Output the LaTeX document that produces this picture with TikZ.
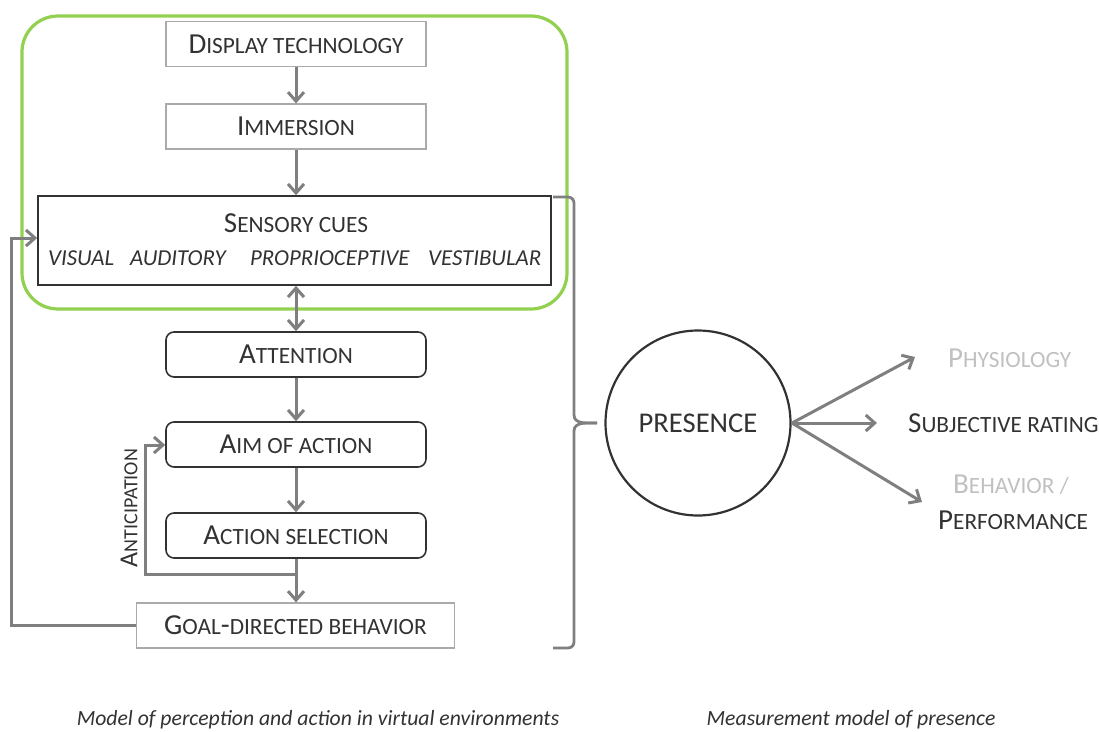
\documentclass[tikz,border=0pt]{standalone}
\usepackage{fontspec}
\setmainfont{Carlito}
\usetikzlibrary{arrows.meta}
\definecolor{arr}{RGB}{127,127,127}
\definecolor{grn}{RGB}{146,208,80}
\definecolor{lgbox}{RGB}{170,170,170}
\definecolor{txt}{RGB}{50,50,50}
\definecolor{ltxt}{RGB}{192,192,192}
\newcommand\smc{\fontsize{23.3}{23.3}\selectfont}
\newcommand\bgc{\fontsize{29}{29}\selectfont}
\begin{document}
\begin{tikzpicture}[x=1pt,y=-1pt,
  barb/.tip={Straight Barb[length=9pt,width=16pt]},
  arrtip/.style={-barb},
  conn/.style={draw=arr,line width=3pt,arrtip},
  lbox/.style={draw=lgbox,line width=1.2pt,minimum width=260pt,minimum height=45pt,text=txt,font=\bgc,inner sep=0pt},
  rbox/.style={draw=txt,line width=1.6pt,rounded corners=8pt,minimum width=260pt,minimum height=45pt,text=txt,font=\bgc,inner sep=0pt},
  itc/.style={text=txt,font=\fontsize{22.8}{22.8}\selectfont\itshape,anchor=west,inner sep=0pt},
  rtxt/.style={font=\bgc,anchor=west,inner sep=0pt},
  captxt/.style={font=\fontsize{21.7}{21.7}\selectfont\itshape,text=txt}]
\useasboundingbox (0,0) rectangle (1099,731);
% green frame
\draw[grn,line width=3.2pt,rounded corners=36pt] (22,16) rectangle (567,309);
% left column
\node[lbox] (dt) at (296,44) {D{\smc ISPLAY TECHNOLOGY}};
\node[lbox] (im) at (296,126.5) {I{\smc MMERSION}};
\node[draw=txt,line width=1.6pt,minimum width=513pt,minimum height=89pt,inner sep=0pt] (sc) at (294.5,240.5) {};
\node[text=txt,font=\bgc,inner sep=0pt] (sct) at (296,223) {S{\smc ENSORY CUES}};
\node[itc] (v1) at (48,258) {VISUAL};
\node[itc] (v2) at (130,258) {AUDITORY};
\node[itc] (v3) at (250,258) {PROPRIOCEPTIVE};
\node[itc] (v4) at (428,258) {VESTIBULAR};
\node[rbox] (at) at (296,354.5) {A{\smc TTENTION}};
\node[rbox] (aim) at (296,444.5) {A{\smc IM OF ACTION}};
\node[rbox] (as) at (296,535.5) {A{\smc CTION SELECTION}};
\node[lbox,minimum width=318pt] (gdb) at (295.5,625.5) {G{\smc OAL}-{\smc DIRECTED BEHAVIOR}};
% vertical arrows
\draw[conn] (dt.south) -- (im.north);
\draw[conn] (im.south) -- (sc.north -| im.south);
\draw[conn,barb-barb] (sc.south -| at.north) -- (at.north);
\draw[conn] (at.south) -- (aim.north);
\draw[conn] (aim.south) -- (as.north);
\draw[conn] (as.south) -- (gdb.north -| as.south);
% anticipation loop
\coordinate (ab) at (296,574);
\draw[conn] (ab) -- (145,574) -- (145,445) -- (aim.west |- 0,445);
\node[rotate=90,text=txt,font=\fontsize{26}{26}\selectfont,inner sep=0pt] (antl) at (129,508) {A{\fontsize{20}{20}\selectfont NTICIPATION}};
% feedback loop
\draw[conn] (gdb.west) -- (11,625.5) -- (11,238) -- (sc.west |- 0,238);
% brace
\coordinate (br1) at (553,197);
\coordinate (br2) at (553,648);
\coordinate (brt) at (597,423);
\draw[arr,line width=2.8pt,line join=round] (br1) -- (568,197) to[out=0,in=90] (574,203) -- (574,415) to[out=-90,in=180] (brt);
\draw[arr,line width=2.8pt,line join=round] (br2) -- (568,648) to[out=0,in=-90] (574,642) -- (574,431) to[out=90,in=180] (brt);
% presence
\node[circle,draw=txt,line width=2.2pt,minimum size=185pt,inner sep=0pt,text=txt,font=\fontsize{28.6}{28.6}\selectfont] (pr) at (698,423) {PRESENCE};
\coordinate (po) at (792,423);
\node[rtxt,text=ltxt] (ph) at (948,358) {P{\smc HYSIOLOGY}};
\node[rtxt,text=txt] (sr) at (908,423) {S{\smc UBJECTIVE RATING}};
\node[rtxt,text=ltxt] (bh) at (953,485) {B{\smc EHAVIOR /}};
\node[rtxt,text=txt] (pf) at (938,520) {P{\smc ERFORMANCE}};
\coordinate (pht) at (915,357);
\coordinate (srt) at (877,423);
\coordinate (bht) at (922,502);
\draw[conn] (po) -- (pht);
\draw[conn] (po) -- (srt);
\draw[conn] (po) -- (bht);
% captions
\node[captxt] (c1) at (318,720) {Model of perception and action in virtual environments};
\node[captxt] (c2) at (851,720) {Measurement model of presence};
\end{tikzpicture}
\end{document}
